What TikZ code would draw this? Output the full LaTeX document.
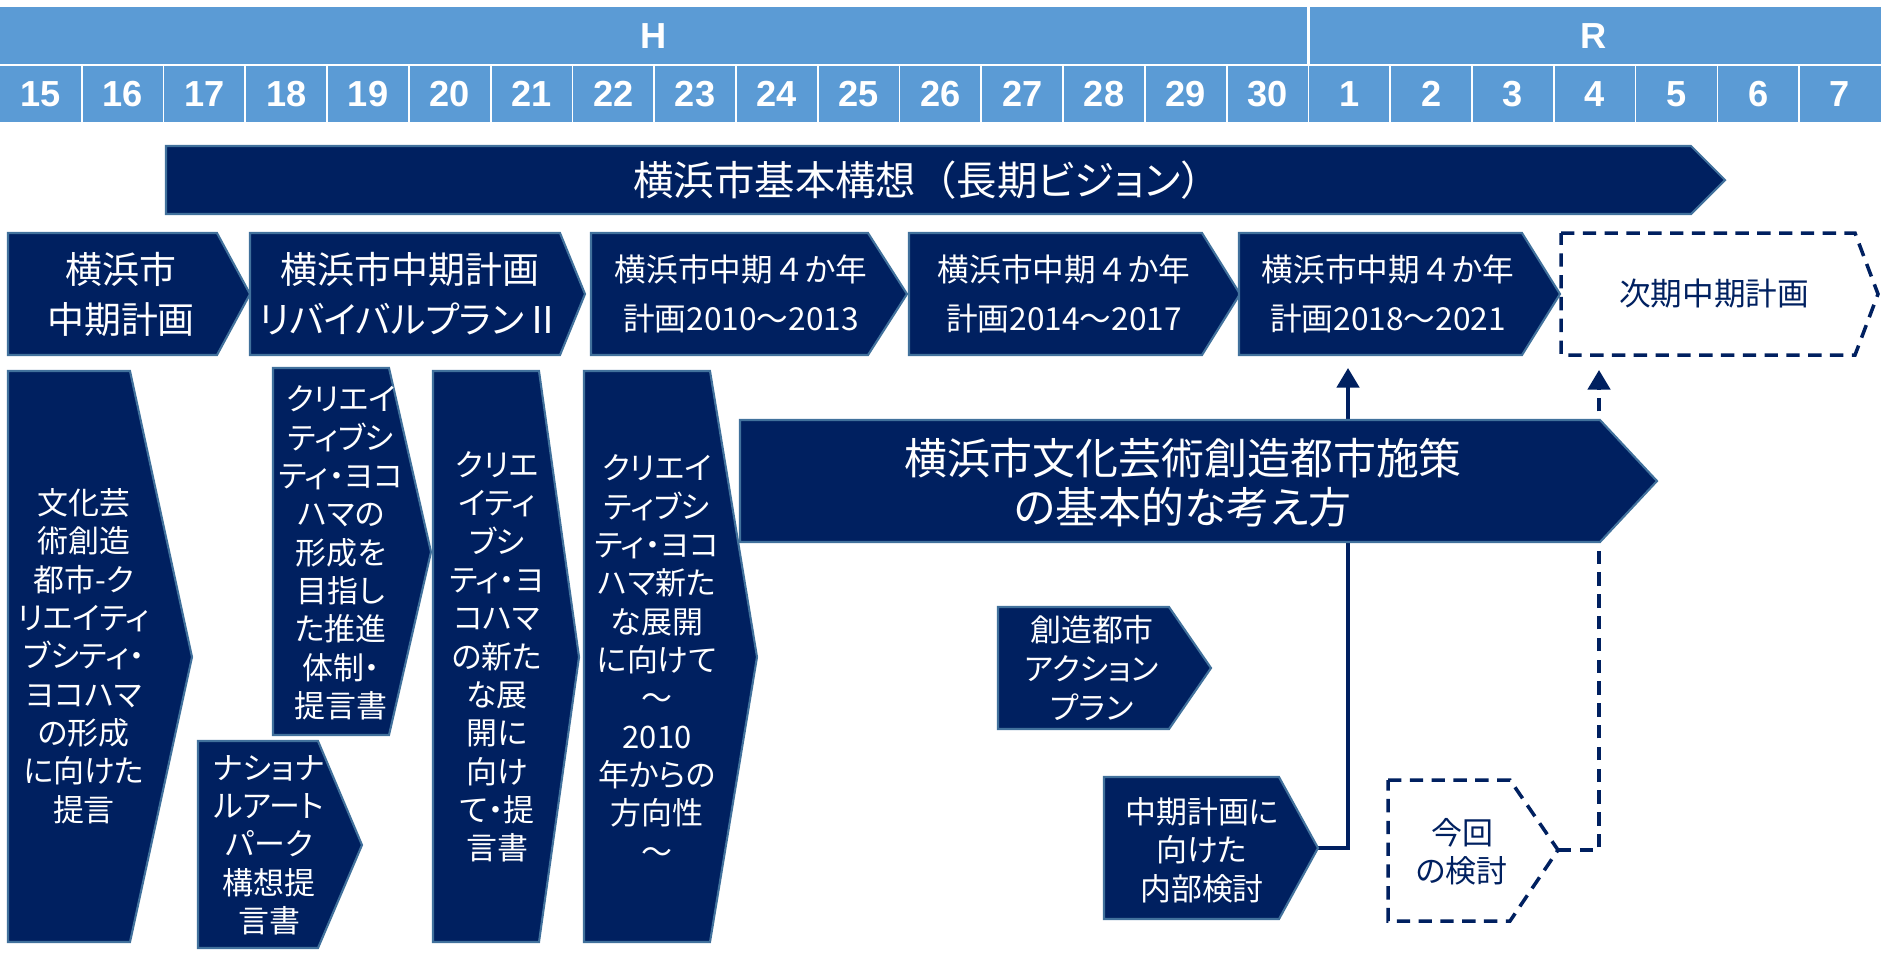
\documentclass[tikz,border=0pt]{standalone}
\usepackage{fontspec}
\newfontfamily\jpfont[RawFeature=+palt]{Noto Sans CJK JP}
\newfontfamily\jpwide{Noto Sans CJK JP}
\newfontfamily\numfont{Liberation Sans}
\usetikzlibrary{arrows.meta,positioning}
\pgfdeclarelayer{back}
\pgfsetlayers{back,main}
\definecolor{ynavy}{HTML}{002060}
\definecolor{yframe}{HTML}{41719C}
\definecolor{yband}{HTML}{5B9BD5}

\begin{document}
\begin{tikzpicture}[x=0.01cm, y=-0.01cm,
            every node/.style={inner sep=0pt, align=center, text=white},
            chev/.style={fill=ynavy, draw=yframe, line width=0.6pt},
            nextplan/.style={draw=ynavy, line width=1pt, dash pattern=on 3.8pt off 2.4pt},
            hd/.style={font=\numfont\bfseries\fontsize{10.3}{12}\selectfont},
            jpban/.style={font=\jpfont\fontsize{11.5}{14}\selectfont},
            jpbig/.style={font=\jpfont\fontsize{10.5}{14.2}\selectfont},
            jpmid/.style={font=\jpfont\fontsize{9}{13.9}\selectfont},
            jpsmall/.style={font=\jpfont\fontsize{8.8}{10.9}\selectfont},
            link/.style={draw=ynavy, line width=1pt, -{Triangle[width=6.4pt,length=5.6pt]}}]
        \useasboundingbox (0,0) rectangle (1881,956);

        % year header
        \fill[yband] (0,7) rectangle (1881,122);
        \draw[white, line width=0.5pt] (0,65) -- (1881,65);
        \foreach \i in {1,...,22}
            \draw[white, line width=0.5pt] ({\i*81.78},65) -- ({\i*81.78},122);
        \draw[white, line width=0.9pt] (1308.5,7) -- (1308.5,65);
        \node[hd] (heisei) at (654,36) {H};
        \node[hd] (reiwa) at (1594,36) {R};
        \foreach \n [count=\i from 0] in {15,...,30}
            \node[hd] (h\n) at ({(\i+0.5)*81.78},94) {\n};
        \foreach \n [count=\i from 16] in {1,...,7}
            \node[hd] (r\n) at ({(\i+0.5)*81.78},94) {\n};

        % vision
        \path[chev] (166,146) -- (1691,146) -- (1725,180) -- (1691,214) -- (166,214) -- cycle;
        \node[jpban] (kousou) at (927,180) {横浜市基本構想{\jpwide （}長期ビジョン{\jpwide ）}};

        % mid-term plans
        \path[chev] (8,233) -- (217,233) -- (250,294) -- (217,355) -- (8,355) -- cycle;
        \node[jpbig] (chuki) at (121,294) {横浜市\\中期計画};
        \path[chev] (250,233) -- (560,233) -- (585,294) -- (560,355) -- (250,355) -- cycle;
        \node[jpbig] (revival) at (410,294) {横浜市中期計画\\リバイバルプラン{\jpwide Ⅱ}};
        \path[chev] (591,233) -- (868,233) -- (907,294) -- (868,355) -- (591,355) -- cycle;
        \node[jpmid] (plan10) at (741,294) {横浜市中期{\jpwide ４}か年\\計画2010～2013};
        \path[chev] (909,233) -- (1202,233) -- (1240,294) -- (1202,355) -- (909,355) -- cycle;
        \node[jpmid] (plan14) at (1064,294) {横浜市中期{\jpwide ４}か年\\計画2014～2017};
        \path[chev] (1239,233) -- (1522,233) -- (1560,294) -- (1522,355) -- (1239,355) -- cycle;
        \node[jpmid] (plan18) at (1388,294) {横浜市中期{\jpwide ４}か年\\計画2018～2021};
        \path[nextplan] (1561,233) -- (1855,233) -- (1878,294) -- (1855,355) -- (1561,355) -- cycle;
        \node[jpmid, text=ynavy] (jiki) at (1714,294) {次期中期計画};

        % proposals
        \path[chev] (8,371) -- (130,371) -- (192,657) -- (130,942) -- (8,942) -- cycle;
        \node[jpsmall] (teigen) at (84,656) {文化芸\\術創造\\都市-ク\\リエイティ\\ブシティ・\\ヨコハマ\\の形成\\に向けた\\提言};
        \path[chev] (273,368) -- (389,368) -- (431,552) -- (389,735) -- (273,735) -- cycle;
        \node[jpsmall] (suishin) at (341,553) {クリエイ\\ティブシ\\ティ・ヨコ\\ハマの\\形成を\\目指し\\た推進\\体制・\\提言書};
        \path[chev] (198,741) -- (318,741) -- (362,845) -- (318,948) -- (198,948) -- cycle;
        \node[jpsmall] (nap) at (269,845) {ナショナ\\ルアート\\パーク\\構想提\\言書};
        \path[chev] (433,371) -- (539,371) -- (579,657) -- (539,942) -- (433,942) -- cycle;
        \node[jpsmall] (tenkai) at (497,657) {クリエ\\イティ\\ブシ\\ティ・ヨ\\コハマ\\の新た\\な展\\開に\\向け\\て・提\\言書};
        \path[chev] (584,371) -- (710,371) -- (757,657) -- (710,942) -- (584,942) -- cycle;
        \node[jpsmall] (houkou) at (657,659) {クリエイ\\ティブシ\\ティ・ヨコ\\ハマ新た\\な展開\\に向けて\\～\\2010\\年からの\\方向性\\～};

        % creative city policy
        \path[chev] (740,420) -- (1600,420) -- (1657,481) -- (1600,542) -- (740,542) -- cycle;
        \node[font=\jpfont\fontsize{12.2}{13.9}\selectfont] (kangae) at (1183,483) {横浜市文化芸術創造都市施策\\の基本的な考え方};
        \path[chev] (998,607) -- (1169,607) -- (1211,668) -- (1169,729) -- (998,729) -- cycle;
        \node[font=\jpfont\fontsize{8.8}{11.1}\selectfont] (action) at (1092,668) {創造都市\\アクション\\プラン};
        \path[chev] (1104,777) -- (1279,777) -- (1318,848) coordinate (naibutip) -- (1279,919) -- (1104,919) -- cycle;
        \node[jpsmall] (naibu) at (1202,850) {中期計画に\\向けた\\内部検討};
        \path[nextplan] (1388,780) -- (1510,780) -- (1558,850) coordinate (konkaitip) -- (1510,921) -- (1388,921) -- cycle;
        \node[jpsmall, text=ynavy] (konkai) at (1462,852) {今回\\の検討};

        % feedback into the plans
        \coordinate (up18) at (1348,368);
        \coordinate (upnext) at (1599,370);
        \begin{pgfonlayer}{back}
            \draw[link] (naibutip) -| (up18);
            \draw[link, dash pattern=on 3.8pt off 2.4pt] (konkaitip) -| (upnext);
        \end{pgfonlayer}
\end{tikzpicture}
\end{document}
